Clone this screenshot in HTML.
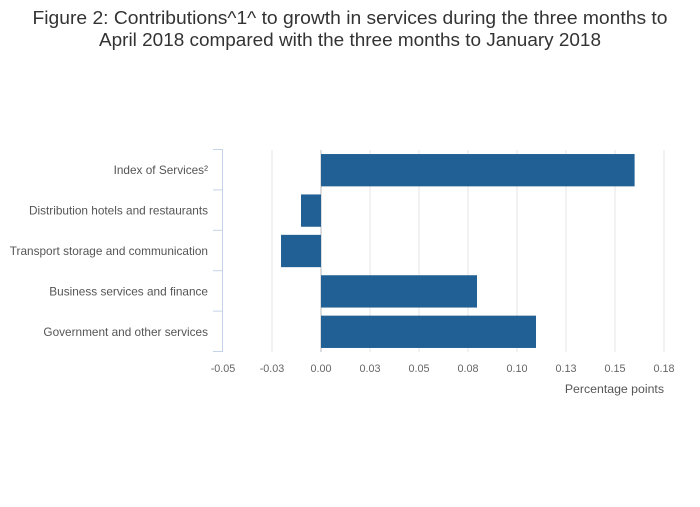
<!DOCTYPE html>
<html><head><meta charset="utf-8"><style>
body{margin:0;background:#fff;font-family:"Liberation Sans",sans-serif;}
svg text{font-family:"Liberation Sans",sans-serif;}
</style></head><body>
<svg width="700" height="502" viewBox="0 0 700 502">
<text x="350" y="24" text-anchor="middle" font-size="18.5" fill="#333" textLength="635" lengthAdjust="spacingAndGlyphs">Figure 2: Contributions^1^ to growth in services during the three months to</text>
<text x="350" y="46" text-anchor="middle" font-size="18.5" fill="#333" textLength="502" lengthAdjust="spacingAndGlyphs">April 2018 compared with the three months to January 2018</text>
<g id="grid"></g><g id="bars"></g><g id="yaxis"></g><g id="xaxis"></g>
<text x="664" y="393" text-anchor="end" font-size="12.3" fill="#555">Percentage points</text>
</svg>
<script>
const categories=["Index of Services²","Distribution hotels and restaurants","Transport storage and communication","Business services and finance","Government and other services"];
const values=[0.160,-0.0102,-0.0204,0.0796,0.1097];
const tickValues=[-0.05,-0.025,0,0.025,0.05,0.075,0.1,0.125,0.15,0.175];
const tickLabels=["-0.05","-0.03","0.00","0.03","0.05","0.08","0.10","0.13","0.15","0.18"];
const NS="http://www.w3.org/2000/svg";
const x0=223,x1=664,xmin=-0.05,xmax=0.175,yTop=150,yBottom=352;
const xs=v=>x0+(v-xmin)/(xmax-xmin)*(x1-x0);
const band=(yBottom-yTop)/categories.length;
function mk(t,a,p){const e=document.createElementNS(NS,t);for(const k in a)e.setAttribute(k,a[k]);p.appendChild(e);return e;}
const grid=document.getElementById('grid'),bars=document.getElementById('bars'),ya=document.getElementById('yaxis'),xa=document.getElementById('xaxis');
tickValues.forEach((v,i)=>{
 if(i>0){const g=mk('line',{x1:xs(v),x2:xs(v),y1:yTop,y2:yBottom,stroke:v===0?'#bbb':'#e6e6e6','stroke-width':1},grid);
 
 }
 const t=mk('text',{x:xs(v),y:372,'text-anchor':'middle','font-size':10.8,fill:'#666'},xa);t.textContent=tickLabels[i];
 
 
});
const ax=mk('line',{x1:222.5,x2:222.5,y1:yTop-1,y2:yBottom,stroke:'#c5d3ea','stroke-width':1},ya);


for(let i=0;i<=categories.length;i++){const y=yTop+i*band-0.5;
 const tk=mk('line',{x1:213,x2:223,y1:y,y2:y,stroke:'#c5d3ea','stroke-width':1},ya);
 
 }
categories.forEach((c,i)=>{
 const yc=yTop+(i+0.5)*band;
 const t=mk('text',{x:208,y:yc+4,'text-anchor':'end','font-size':11.8,fill:'#555'},ya);t.textContent=c;
 
 
 const v=values[i],a=xs(0),b=xs(v),h=band*0.8;
 const r=mk('rect',{x:Math.min(a,b),y:yc-h/2,width:Math.abs(b-a),height:h,fill:'#206095'},bars);
 
 
});
</script>
</body></html>
